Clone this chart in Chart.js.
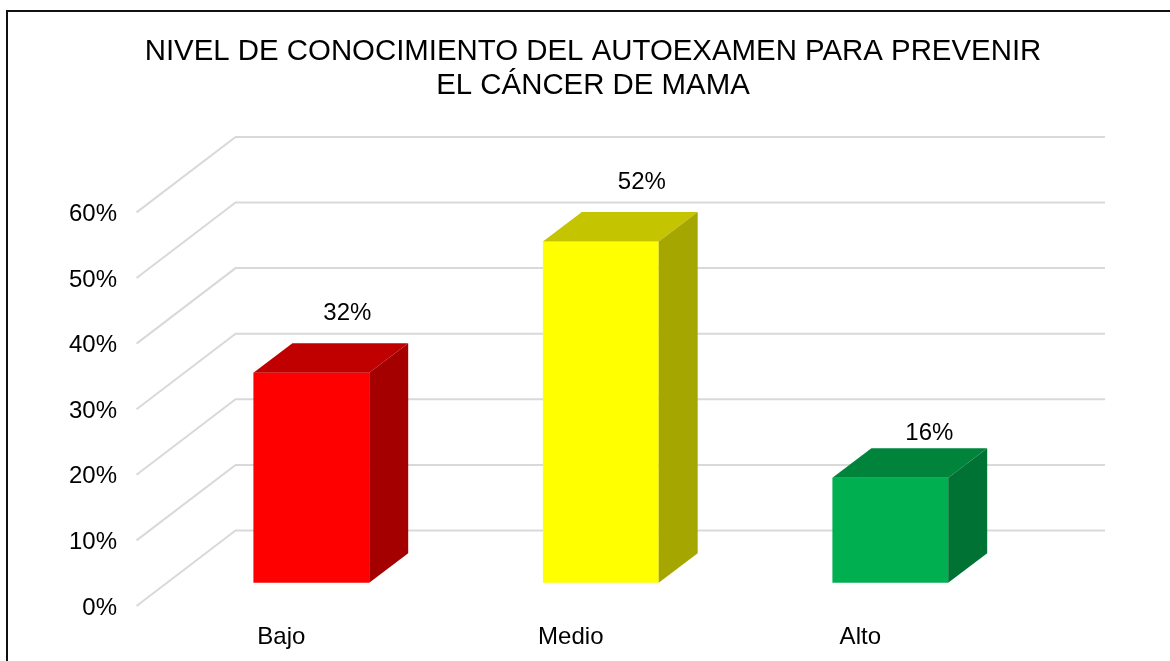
<!DOCTYPE html>
<html>
<head>
<meta charset="utf-8">
<title>Nivel de conocimiento</title>
<script src="https://cdn.jsdelivr.net/npm/chart.js@4"></script>
<style>
    html, body { margin: 0; padding: 0; background: #fff; overflow: hidden; }
    #frame { position: absolute; left: 6px; top: 10px; width: 1170px; height: 660px; border-left: 2px solid #111; border-top: 2px solid #111; }
    #nivelChart { position: absolute; left: 16px; top: 0; }
</style>
</head>
<body>
<div id="frame"></div>
<canvas id="nivelChart" width="1154" height="661"></canvas>
<script>
const categories = ['Bajo', 'Medio', 'Alto'];
const values = [32, 52, 16];
const tickValues = [0, 10, 20, 30, 40, 50, 60];
const titleLines = ['NIVEL DE CONOCIMIENTO DEL AUTOEXAMEN PARA PREVENIR', 'EL CÁNCER DE MAMA'];

const frontColors = ['#ff0000', '#ffff00', '#00b050'];
const topColors = ['#c00000', '#c4c400', '#00843c'];
const sideColors = ['#a50000', '#a6a600', '#007233'];

const fontFamily = '"Liberation Sans", Arial, sans-serif';
const pxPerPercent = 6.56;

// depth of the fake 3D box and of the side wall
const barDepth = { x: 39, y: -29.5 };
const wallDepth = { x: 99, y: -75.5 };
const wallRight = 1089;
const labelOffsets = [[36, -59], [41, -59], [39, -44]];

function fillPoly(ctx, color, pts) {
    ctx.fillStyle = color;
    ctx.beginPath();
    pts.forEach((p, i) => i ? ctx.lineTo(p[0], p[1]) : ctx.moveTo(p[0], p[1]));
    ctx.closePath();
    ctx.fill();
}

const wallsPlugin = {
    id: 'walls',
    beforeDatasetsDraw(chart) {
        const { ctx, scales } = chart;
        const front = scales.yFront;
        const left = chart.chartArea.left - 30;
        ctx.save();
        ctx.strokeStyle = '#d9d9d9';
        ctx.lineWidth = 2;
        tickValues.forEach(v => {
            const y = front.getPixelForValue(v);
            ctx.beginPath();
            ctx.moveTo(left, y);
            ctx.lineTo(left + wallDepth.x, y + wallDepth.y);
            ctx.lineTo(wallRight, y + wallDepth.y);
            ctx.stroke();
        });
        ctx.restore();
    }
};

const boxPlugin = {
    id: 'box',
    afterDatasetsDraw(chart) {
        const { ctx } = chart;
        const bars = chart.getDatasetMeta(0).data;
        ctx.save();
        bars.forEach((bar, i) => {
            const l = bar.x - bar.width / 2;
            const r = bar.x + bar.width / 2;
            const t = bar.y;
            const b = bar.base;
            fillPoly(ctx, topColors[i], [[l, t], [r, t], [r + barDepth.x, t + barDepth.y], [l + barDepth.x, t + barDepth.y]]);
            fillPoly(ctx, sideColors[i], [[r, t], [r + barDepth.x, t + barDepth.y], [r + barDepth.x, b + barDepth.y], [r, b]]);
            ctx.fillStyle = '#000';
            ctx.font = '24px ' + fontFamily;
            ctx.textAlign = 'center';
            ctx.textBaseline = 'middle';
            ctx.fillText(values[i] + '%', bar.x + labelOffsets[i][0], t + labelOffsets[i][1]);
        });
        ctx.restore();
    }
};

const ctx = document.getElementById('nivelChart').getContext('2d');
const nivelChart = new Chart(ctx, {
    type: 'bar',
    data: {
        labels: categories,
        datasets: [{
            data: values,
            yAxisID: 'y',
            backgroundColor: frontColors,
            borderWidth: 0,
            categoryPercentage: 1,
            barPercentage: 0.4
        }]
    },
    options: {
        responsive: false,
        animation: false,
        plugins: {
            legend: { display: false },
            tooltip: { enabled: false },
            title: {
                display: true,
                text: titleLines,
                color: '#000',
                font: { family: fontFamily, size: 29.4, weight: 'normal', lineHeight: 34 / 29.4 },
                padding: { top: 35, bottom: 33.7 }
            }
        },
        scales: {
            x: {
                grid: { display: false, drawTicks: false },
                border: { display: false },
                afterFit: s => { s.height = 55; },
                ticks: {
                    color: '#000',
                    padding: 17,
                    labelOffset: -30,
                    maxRotation: 0,
                    font: { family: fontFamily, size: 24 }
                }
            },
            // bars sit on a plane further back than the printed axis
            y: {
                display: false,
                min: -(606 - 582.7) / pxPerPercent,
                max: (582.7 - 136.7) / pxPerPercent
            },
            yFront: {
                axis: 'y',
                position: 'left',
                min: 0,
                max: (606 - 136.7) / pxPerPercent,
                grid: { display: false, drawTicks: false },
                border: { display: false },
                // big tick padding would otherwise eat the room under the chart
                afterFit: s => { s.width = 150.55; s.paddingTop = 0; s.paddingBottom = 0; },
                afterBuildTicks: s => { s.ticks = tickValues.map(v => ({ value: v })); },
                ticks: {
                    color: '#000',
                    padding: 49.5,
                    labelOffset: 2,
                    callback: v => v + '%',
                    font: { family: fontFamily, size: 24 }
                }
            },
            // empty axis, only keeps the room on the right so the title stays centred on the canvas
            yGap: {
                axis: 'y',
                position: 'right',
                min: 0,
                max: 1,
                grid: { display: false, drawTicks: false },
                border: { display: false },
                ticks: { display: false },
                afterFit: s => { s.width = 134.95; }
            }
        }
    },
    plugins: [wallsPlugin, boxPlugin]
});
</script>
</body>
</html>
